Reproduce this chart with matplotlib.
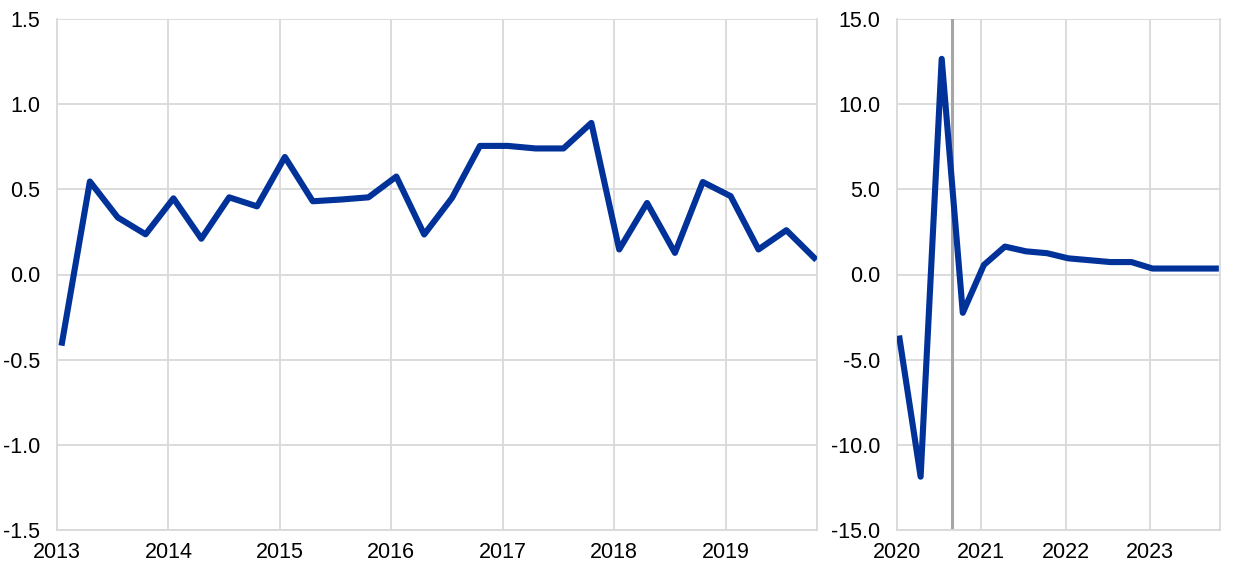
import numpy as np
import matplotlib.pyplot as plt

plt.rcParams['font.family'] = ['Liberation Sans', 'DejaVu Sans']
plt.rcParams['font.size'] = 15.5

# quarterly values 2013Q1 - 2019Q4
left_vals = [-0.40, 0.546, 0.335, 0.236, 0.447, 0.21, 0.453, 0.40,
             0.69, 0.43, 0.44, 0.453, 0.575, 0.235, 0.45, 0.755,
             0.755, 0.74, 0.74, 0.89, 0.147, 0.42, 0.127, 0.543,
             0.46, 0.147, 0.26, 0.098]
# quarterly values 2020Q1 - 2023Q4
right_vals = [-3.76, -11.87, 12.66, -2.25, 0.56, 1.64, 1.36, 1.25,
              0.95, 0.84, 0.73, 0.73, 0.35, 0.35, 0.35, 0.35]

left_years = [2013, 2014, 2015, 2016, 2017, 2018, 2019]
right_years = [2020, 2021, 2022, 2023]
proj_start = 2020.65

blue = '#003299'
grid = '#d9d9d9'

x_left = 2013 + np.arange(len(left_vals)) * 0.25 + 0.045
x_right = 2020 + np.arange(len(right_vals)) * 0.25 + 0.03

fig = plt.figure(figsize=(12.4, 5.74), dpi=100)
ax1 = fig.add_axes([57/1240, 1 - 530/574, 760/1240, 511/574])
ax2 = fig.add_axes([897/1240, 1 - 530/574, 323/1240, 511/574])

ax1.plot(x_left, left_vals, color=blue, lw=4.4, solid_joinstyle='round', zorder=3)
ax1.set_xlim(2013, 2019.82)
ax1.set_ylim(-1.5, 1.5)
ax1.set_yticks(np.arange(-1.5, 1.51, 0.5))
ax1.set_yticklabels([f'{v:.1f}' for v in np.arange(-1.5, 1.51, 0.5)])
ax1.set_xticks(left_years)
ax1.set_xticklabels([str(y) for y in left_years])

ax2.axvline(proj_start, color='#a6a6a6', lw=2.2, zorder=2)
ax2.plot(x_right, right_vals, color=blue, lw=4.4, solid_joinstyle='round', zorder=3)
ax2.set_xlim(2020, 2023.83)
ax2.set_ylim(-15, 15)
ax2.set_yticks(np.arange(-15, 15.1, 5))
ax2.set_yticklabels([f'{v:.1f}' for v in np.arange(-15, 15.1, 5)])
ax2.set_xticks(right_years)
ax2.set_xticklabels([str(y) for y in right_years])

for ax in (ax1, ax2):
    ax.grid(True, color=grid, lw=1.3, zorder=0)
    ax.set_axisbelow(True)
    for s in ax.spines.values():
        s.set_color(grid)
        s.set_linewidth(1.3)
    ax.spines['top'].set_visible(False)
    ax.tick_params(length=0, pad=12, colors='#000000')
    ax.tick_params(axis='x', pad=9)

fig.savefig('out.png', dpi=100)
